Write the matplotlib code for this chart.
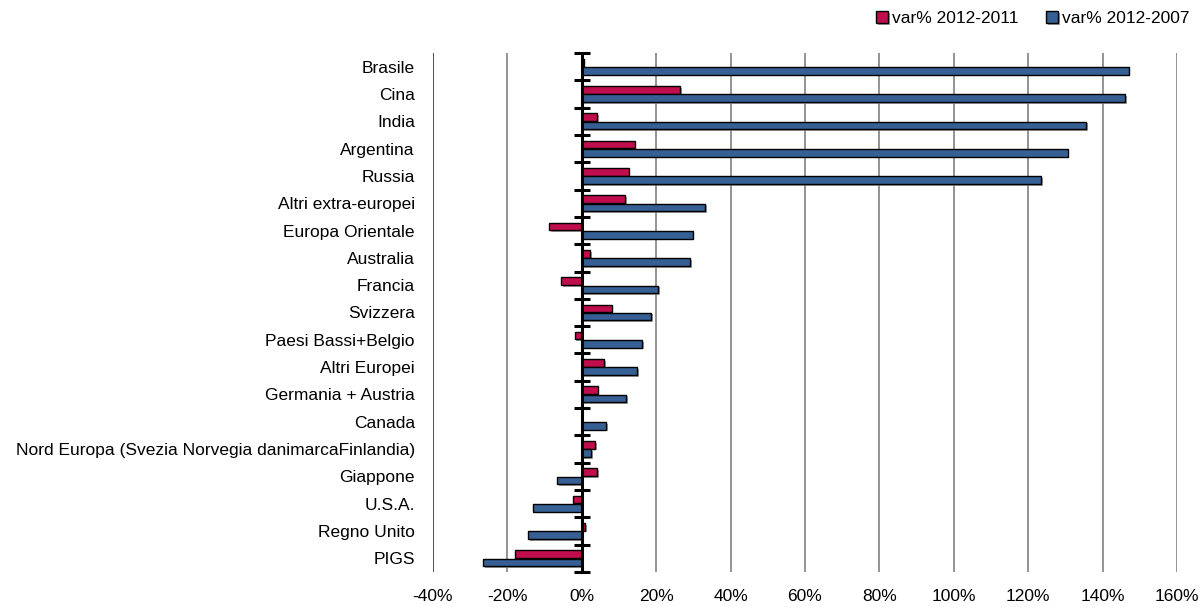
import numpy as np
import matplotlib
matplotlib.use("Agg")
import matplotlib.pyplot as plt
import matplotlib.patheffects as pe
from matplotlib.ticker import FuncFormatter

plt.rcParams['font.family'] = ['Liberation Sans Narrow', 'Liberation Sans', 'DejaVu Sans']

# categories, top to bottom
paesi = ['Brasile', 'Cina', 'India', 'Argentina', 'Russia', 'Altri extra-europei',
         'Europa Orientale', 'Australia', 'Francia', 'Svizzera', 'Paesi Bassi+Belgio',
         'Altri Europei', 'Germania + Austria', 'Canada',
         'Nord Europa (Svezia Norvegia danimarcaFinlandia)', 'Giappone', 'U.S.A.',
         'Regno Unito', 'PIGS']

# percent changes
var_2011 = [0.5, 26.5, 4.1, 14.2, 12.6, 11.6, -8.8, 2.3, -5.5, 8.0, -1.9, 6.1,
            4.3, 0.0, 3.6, 4.1, -2.3, 0.9, -18.0]
var_2007 = [147.0, 146.0, 135.6, 130.6, 123.5, 33.2, 29.8, 29.2, 20.6, 18.6, 16.2,
            14.9, 12.0, 6.5, 2.6, -6.6, -13.1, -14.5, -26.5]

label_2011 = 'var% 2012-2011'
label_2007 = 'var% 2012-2007'
x_ticks = [-40, -20, 0, 20, 40, 60, 80, 100, 120, 140, 160]

red = '#C00D4E'
blue = '#365F93'

fig = plt.figure(figsize=(12, 6.07), dpi=100)
ax = fig.add_axes([433 / 1200, 1 - 572 / 607, (1177 - 433) / 1200, (572 - 53) / 607])

y = np.arange(len(paesi))
h = 0.28
shadow = [pe.SimplePatchShadow(offset=(1.2, -1.2), shadow_rgbFace='#888888', alpha=0.8), pe.Normal()]

b1 = ax.barh(y - 0.152, var_2011, height=h, color=red, edgecolor='black', linewidth=1.0,
             label=label_2011, zorder=3)
b2 = ax.barh(y + 0.152, var_2007, height=h, color=blue, edgecolor='black', linewidth=1.0,
             label=label_2007, zorder=3)
for bar in list(b1) + list(b2):
    bar.set_path_effects(shadow)

ax.set_xlim(-40, 160)
ax.set_ylim(len(paesi) - 0.5, -0.5)

# vertical grid lines
for xv in x_ticks:
    ax.axvline(xv, color='#444444' if xv == -40 else '#8a8a8a', lw=1.3, zorder=1)

# category axis at zero with crossing ticks
ax.axvline(0, color='black', lw=2.2, zorder=4)
bounds = np.arange(len(paesi) + 1) - 0.5
ax.plot(np.zeros_like(bounds), bounds, linestyle='none', marker='_', markersize=12,
        markeredgewidth=2.2, color='black', zorder=5, clip_on=False)

for s in ax.spines.values():
    s.set_visible(False)

ax.set_yticks(y)
ax.set_yticklabels(paesi, fontsize=12.5)
ax.tick_params(axis='y', length=0, pad=13)
ax.set_xticks(x_ticks)
ax.xaxis.set_major_formatter(FuncFormatter(lambda v, p: f'{v:.0f}%'))
ax.tick_params(axis='x', length=0, pad=12, labelsize=12.5)

ax.legend(handles=[b1, b2], loc='upper right', bbox_to_anchor=(1196 / 1200, 1 - 4 / 607),
          bbox_transform=fig.transFigure, ncol=2, frameon=False, fontsize=12.5,
          handlelength=0.7, handleheight=0.7, handletextpad=0.2, columnspacing=1.6,
          borderaxespad=0)

fig.savefig('out.png', dpi=100)
